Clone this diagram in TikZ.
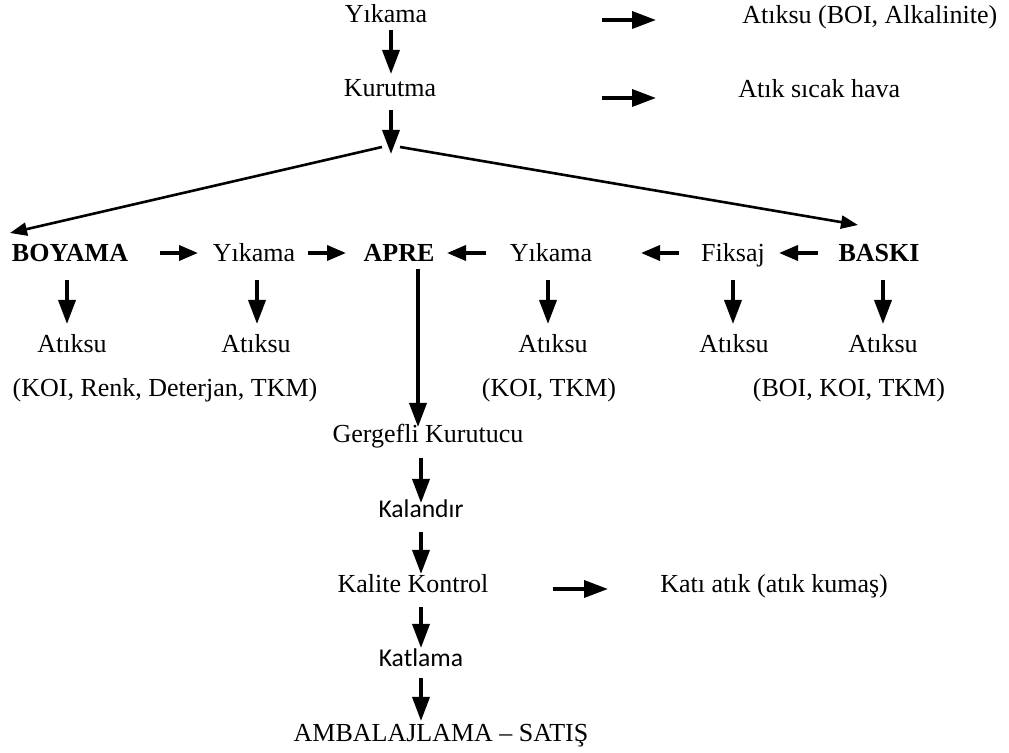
\documentclass[tikz,border=0pt]{standalone}
\usepackage{fontspec}
\setmainfont{Liberation Serif}
\newfontfamily\calfont{Carlito}
\usetikzlibrary{arrows.meta}

\tikzset{
  lbl/.style={inner sep=0pt, anchor=base, font=\fontsize{13}{15}\selectfont},
  lbll/.style={lbl, anchor=base west},
  cal/.style={lbl, font=\fontsize{12.8}{15}\calfont},
  varrow/.style={line width=1.8pt, -{Triangle[length=12pt,width=8.5pt]}},
  harrow/.style={line width=1.8pt, -{Triangle[length=9.5pt,width=7.5pt]}},
  forkline/.style={line width=1.3pt, -{Triangle[length=8.5pt,width=6.5pt]}},
}

\begin{document}
\begin{tikzpicture}[x=0.5pt, y=-0.5pt]
\useasboundingbox (0,0) rectangle (1009,753);

% --- upper chain ---
\node[lbl]  (yik1) at (386,23) {Yıkama};
\node[lbl]  (kur)  at (390,97) {Kurutma};
\node[lbll] (atk1) at (742,24) {Atıksu (BOI, Alkalinite)};
\node[lbll] (atk2) at (738,98) {Atık sıcak hava};

\coordinate (a1s) at (391,30);  \coordinate (a1e) at (391,74);
\coordinate (a2s) at (391,110); \coordinate (a2e) at (391,154);
\coordinate (o1s) at (602,20);  \coordinate (o1e) at (656,20);
\coordinate (o2s) at (602,98);  \coordinate (o2e) at (656,98);
\draw[varrow] (a1s) -- (a1e);
\draw[varrow] (a2s) -- (a2e);
\draw[varrow] (o1s) -- (o1e);
\draw[varrow] (o2s) -- (o2e);

% --- fork to dyeing and printing ---
\coordinate (fl) at (382,147); \coordinate (flt) at (10,233);
\coordinate (fr) at (400,147); \coordinate (frt) at (858,225);
\draw[forkline] (fl) -- (flt);
\draw[forkline] (fr) -- (frt);

% --- process row ---
\node[lbl] (boy)  at (70,262)  {\bfseries BOYAMA};
\node[lbl] (yik2) at (254,262) {Yıkama};
\node[lbl] (apre) at (399,262) {\bfseries APRE};
\node[lbl] (yik3) at (551,262) {Yıkama};
\node[lbl] (fik)  at (733,262) {Fiksaj};
\node[lbl] (bas)  at (879,262) {\bfseries BASKI};

\coordinate (h1s) at (160,253); \coordinate (h1e) at (198,253);
\coordinate (h2s) at (308,253); \coordinate (h2e) at (346,253);
\coordinate (h3s) at (486,253); \coordinate (h3e) at (447,253);
\coordinate (h4s) at (679,253); \coordinate (h4e) at (641,253);
\coordinate (h5s) at (818,253); \coordinate (h5e) at (779,253);
\draw[harrow] (h1s) -- (h1e);
\draw[harrow] (h2s) -- (h2e);
\draw[harrow] (h3s) -- (h3e);
\draw[harrow] (h4s) -- (h4e);
\draw[harrow] (h5s) -- (h5e);

% --- waste water outputs ---
\node[lbl] (w1) at (72,353)  {Atıksu};
\node[lbl] (w2) at (256,353) {Atıksu};
\node[lbl] (w3) at (553,353) {Atıksu};
\node[lbl] (w4) at (734,353) {Atıksu};
\node[lbl] (w5) at (883,353) {Atıksu};

\foreach \n/\x in {d1/67, d2/257, d3/548, d4/733, d5/883}{
  \coordinate (\n s) at (\x,280);
  \coordinate (\n e) at (\x,324);
  \draw[varrow] (\n s) -- (\n e);
}

\node[lbl] (p1) at (165,397) {(KOI, Renk, Deterjan, TKM)};
\node[lbl] (p2) at (549,397) {(KOI, TKM)};
\node[lbl] (p3) at (849,397) {(BOI, KOI, TKM)};

% --- finishing chain ---
\node[lbl]  (gerg) at (428,443) {Gergefli Kurutucu};
\node[cal]  (kal)  at (421,518) {Kalandır};
\node[lbl]  (kk)   at (413,593) {Kalite Kontrol};
\node[lbll] (kati) at (660,593) {Katı atık (atık kumaş)};
\node[cal]  (katl) at (421,667) {Katlama};
\node[lbl]  (amb)  at (441,742) {AMBALAJLAMA – SATIŞ};

\coordinate (v1s) at (418,269); \coordinate (v1e) at (418,427);
\coordinate (v2s) at (421,458); \coordinate (v2e) at (421,503);
\coordinate (v3s) at (421,532); \coordinate (v3e) at (421,574);
\coordinate (k1s) at (553,589); \coordinate (k1e) at (608,589);
\coordinate (v4s) at (421,607); \coordinate (v4e) at (421,648);
\coordinate (v5s) at (421,678); \coordinate (v5e) at (421,721);
\draw[varrow] (v1s) -- (v1e);
\draw[varrow] (v2s) -- (v2e);
\draw[varrow] (v3s) -- (v3e);
\draw[varrow] (k1s) -- (k1e);
\draw[varrow] (v4s) -- (v4e);
\draw[varrow] (v5s) -- (v5e);
\end{tikzpicture}
\end{document}
